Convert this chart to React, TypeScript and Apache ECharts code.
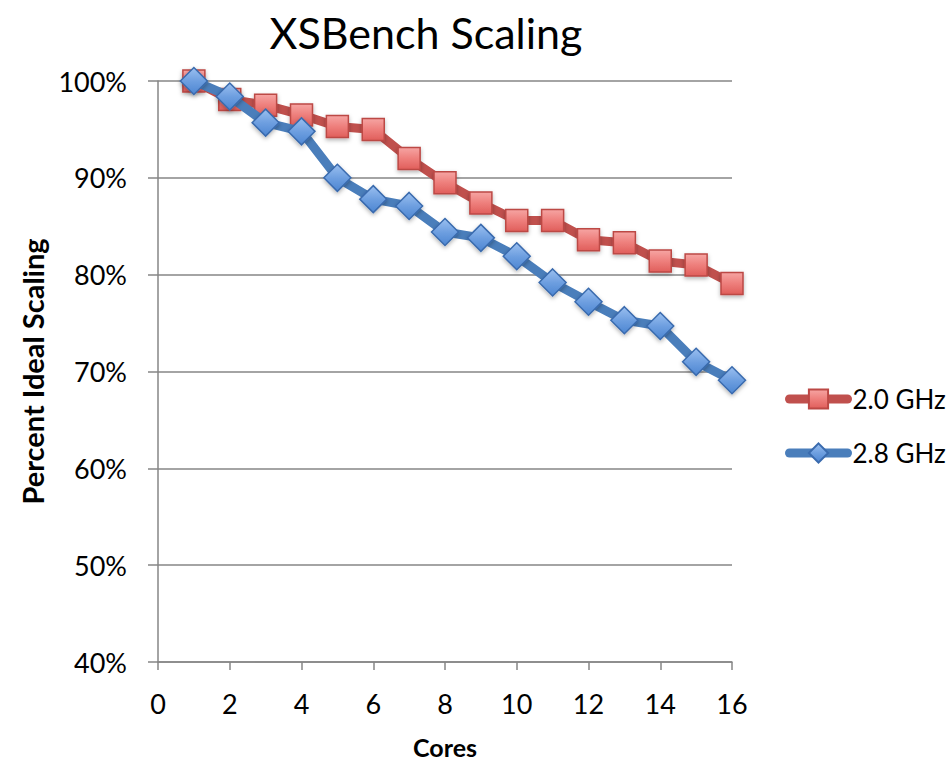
import React, { useEffect, useRef } from "react";
import * as echarts from "echarts";

const cores = [1, 2, 3, 4, 5, 6, 7, 8, 9, 10, 11, 12, 13, 14, 15, 16];
const ghz20 = [100, 98.1, 97.5, 96.5, 95.3, 95.0, 92.0, 89.5, 87.4, 85.6, 85.6, 83.6, 83.3, 81.4, 81.0, 79.1];
const ghz28 = [100, 98.4, 95.7, 94.8, 90.0, 87.8, 87.1, 84.4, 83.8, 81.9, 79.2, 77.2, 75.3, 74.7, 71.0, 69.1];
const seriesNames = ["2.0 GHz", "2.8 GHz"];
const titleText = "XSBench Scaling";
const xName = "Cores";
const yName = "Percent Ideal Scaling";

const FONT = "Lato, 'Open Sans', sans-serif";

export default function App() {
  const ref = useRef<HTMLDivElement>(null);
  useEffect(() => {
    if (!ref.current) return;
    const chart = echarts.init(ref.current, null, { renderer: "svg" });
    const pair = (ys: number[]) => cores.map((c, i) => [c, ys[i]]);
    chart.setOption({
      animation: false,
      backgroundColor: "#ffffff",
      textStyle: { fontFamily: FONT },
      title: {
        text: titleText,
        left: 421,
        textAlign: "center",
        top: 6,
        textStyle: { fontFamily: FONT, fontSize: 43, fontWeight: "normal", color: "#000" },
      },
      legend: {
        orient: "vertical",
        left: 785,
        top: 386,
        padding: 0,
        itemWidth: 58,
        itemHeight: 24,
        itemGap: 28,
        lineStyle: { width: 9, cap: "round" },
        textStyle: { fontFamily: FONT, fontSize: 26, color: "#000" },
        data: seriesNames,
      },
      grid: {
        left: 158,
        right: 219,
        top: 81,
        bottom: 100,
        containLabel: false,
        outerBoundsMode: "none",
      },
      xAxis: {
        type: "value",
        min: 0,
        max: 16,
        interval: 2,
        name: xName,
        nameLocation: "middle",
        nameGap: 72,
        nameTextStyle: { fontFamily: FONT, fontSize: 25, fontWeight: "bold", color: "#000" },
        axisLine: { show: true, lineStyle: { color: "#868686", width: 1.5 } },
        axisTick: { show: true, length: 8, lineStyle: { color: "#868686", width: 1.5 } },
        axisLabel: { fontFamily: FONT, fontSize: 27, color: "#000", margin: 28 },
        splitLine: { show: false },
      },
      yAxis: {
        type: "value",
        min: 40,
        max: 100,
        interval: 10,
        name: yName,
        nameLocation: "middle",
        nameGap: 111,
        nameRotate: 90,
        nameTextStyle: { fontFamily: FONT, fontSize: 29, fontWeight: "bold", color: "#000" },
        axisLine: { show: true, lineStyle: { color: "#868686", width: 1.5 } },
        axisTick: { show: true, length: 10, lineStyle: { color: "#868686", width: 1.5 } },
        axisLabel: { fontFamily: FONT, fontSize: 27, color: "#000", margin: 31, formatter: "{value}%" },
        splitLine: { show: true, lineStyle: { color: "#868686", width: 1.5 } },
      },
      series: [
        {
          name: seriesNames[0],
          type: "line",
          data: pair(ghz20),
          symbol: "rect",
          symbolSize: 22,
          lineStyle: { color: "#C0504D", width: 9 },
          itemStyle: {
            color: new echarts.graphic.LinearGradient(0, 0, 0, 1, [
              { offset: 0, color: "#F6A5A3" },
              { offset: 0.5, color: "#EE7F7C" },
              { offset: 1, color: "#E05E5B" },
            ]),
            borderColor: "#BC4845",
            borderWidth: 1.5,
            shadowBlur: 4,
            shadowColor: "rgba(0,0,0,0.3)",
            shadowOffsetY: 2,
          },
          z: 2,
        },
        {
          name: seriesNames[1],
          type: "line",
          data: pair(ghz28),
          symbol: "diamond",
          symbolSize: 27,
          lineStyle: { color: "#4A7EBB", width: 9 },
          itemStyle: {
            color: new echarts.graphic.LinearGradient(0, 0, 0, 1, [
              { offset: 0, color: "#9BC0F0" },
              { offset: 0.5, color: "#6E9FE0" },
              { offset: 1, color: "#4D86D2" },
            ]),
            borderColor: "#3A6BAE",
            borderWidth: 1.5,
            shadowBlur: 4,
            shadowColor: "rgba(0,0,0,0.3)",
            shadowOffsetY: 2,
          },
          z: 3,
        },
      ],
    });
    return () => chart.dispose();
  }, []);
  return (
    <div
      ref={ref}
      style={{ position: "fixed", left: 0, top: 0, width: 951, height: 762 }}
    />
  );
}
